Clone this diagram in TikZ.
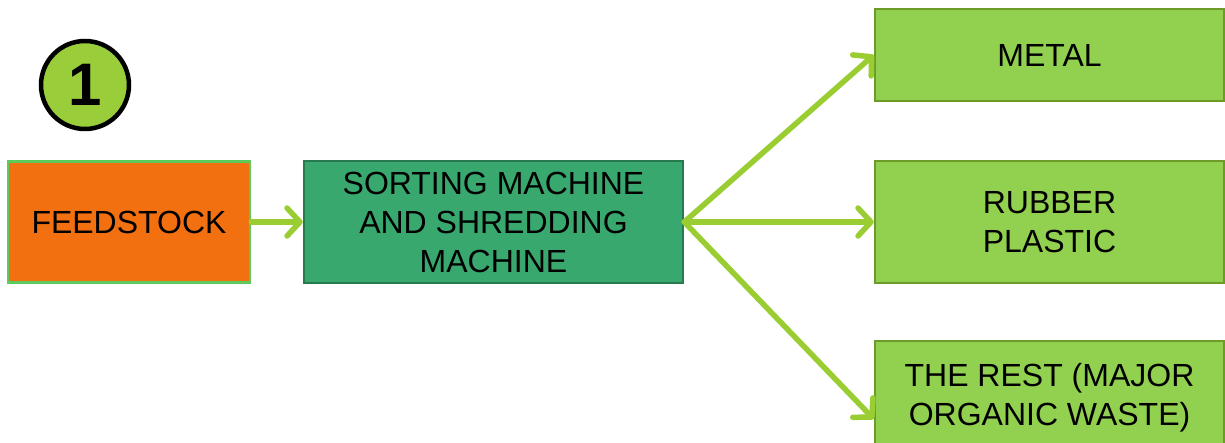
\documentclass[tikz,border=0pt]{standalone}
\usepackage{fontspec}
\setmainfont{Liberation Sans}
\usetikzlibrary{arrows.meta}
\definecolor{feedorange}{HTML}{F27010}
\definecolor{feedrim}{HTML}{5CCB5C}
\definecolor{sortgreen}{HTML}{38A86E}
\definecolor{sortrim}{HTML}{277A4E}
\definecolor{outgreen}{HTML}{92D050}
\definecolor{outrim}{HTML}{6E9A2A}
\definecolor{flowgreen}{HTML}{9ACD32}
\definecolor{badgegreen}{HTML}{9ACD3A}
\tikzset{
  x=1pt, y=-1pt,
  boxtext/.style={font=\fontsize{32}{39}\selectfont},
  box/.style={draw, line width=2.5pt, align=center, inner sep=0pt, boxtext},
  flow/.style={draw=flowgreen, line width=5.5pt, line cap=round,
    -{Straight Barb[length=13pt, width=28pt, round]}}
}
\begin{document}
\begin{tikzpicture}
\useasboundingbox (0,0) rectangle (1225,443);
% source and sorting stage
\node[box, fill=feedorange, draw=feedrim, minimum width=242pt, minimum height=121pt]
  (feed) at (129,222) {FEEDSTOCK};
\node[box, fill=sortgreen, draw=sortrim, minimum width=379pt, minimum height=122pt]
  (sort) at (493.5,222) {SORTING MACHINE\\AND SHREDDING\\MACHINE};
% output fractions
\node[box, fill=outgreen, draw=outrim, minimum width=349pt, minimum height=92pt]
  (metal) at (1049.5,55) {METAL};
\node[box, fill=outgreen, draw=outrim, minimum width=349pt, minimum height=122pt]
  (rubber) at (1049.5,222) {RUBBER\\PLASTIC};
\node[box, fill=outgreen, draw=outrim, minimum width=349pt, minimum height=130pt]
  (rest) at (1049.5,406) {};
\node[boxtext, align=center, inner sep=0pt]
  (resttext) at (1049.5,398) {THE REST (MAJOR\\ORGANIC WASTE)};
% step badge
\node[circle, draw=black, line width=4.5pt, fill=badgegreen, minimum size=88pt,
  inner sep=0pt, font=\fontsize{60}{60}\selectfont\bfseries] (badge) at (85,85) {1};
% flows
\draw[flow] (feed.east) -- (sort.west);
\coordinate (hub) at (sort.east);
\draw[flow] (hub) -- (metal.west);
\draw[flow] (hub) -- (rubber.west);
\draw[flow] (hub) -- ([yshift=-13pt]rest.west);
\end{tikzpicture}
\end{document}
